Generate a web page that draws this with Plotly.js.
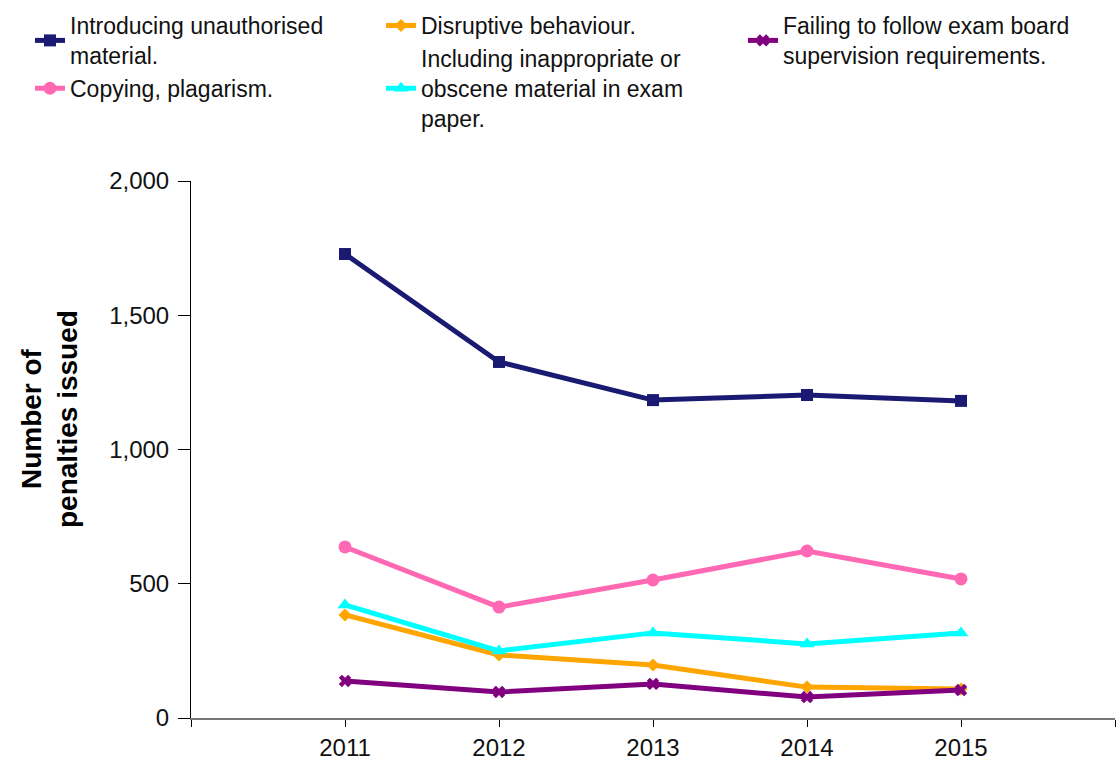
<!DOCTYPE html>
<html>
<head>
<meta charset="utf-8">
<script src="https://cdn.plot.ly/plotly-3.0.1.min.js"></script>
<style>html,body{margin:0;padding:0;background:#fff;}#chart{width:1117px;height:761px;}</style>
</head>
<body>
<div id="chart"></div>
<script>
// Data
const years = [2011, 2012, 2013, 2014, 2015];
const xTickVals = [2010, 2011, 2012, 2013, 2014, 2015, 2016];
const xTickText = ['', '2011', '2012', '2013', '2014', '2015', ''];
const yTickVals = [0, 500, 1000, 1500, 2000];
const yTitle = 'Number of<br>penalties issued';

const seriesNames = [
  'Introducing unauthorised<br>material.',
  'Copying, plagarism.',
  'Disruptive behaviour.',
  'Including inappropriate or<br>obscene material in exam<br>paper.',
  'Failing to follow exam board<br>supervision requirements.'
];
const unauthorised = [1728, 1326, 1184, 1203, 1181];
const copying = [637, 413, 514, 622, 518];
const disruptive = [384, 235, 197, 115, 108];
const inappropriate = [421, 250, 317, 276, 317];
const supervision = [138, 97, 127, 78, 104];

const seriesValues = [unauthorised, copying, disruptive, inappropriate, supervision];
const colors = ['#1a1a72', '#ff69b4', '#ffa500', '#00ffff', '#800080'];
const symbols = ['square', 'circle', 'diamond', 'triangle-up', 'x'];
const sizes = [12, 13, 10, 13, 11];
const legendIds = ['legend', 'legend', 'legend2', 'legend2', 'legend3'];

const traces = seriesValues.map((vals, i) => ({
  type: 'scatter',
  mode: 'lines+markers',
  x: years,
  y: vals,
  name: seriesNames[i],
  legend: legendIds[i],
  line: {color: colors[i], width: 5},
  marker: {color: colors[i], symbol: symbols[i], size: sizes[i]},
  hoverinfo: 'x+y+name'
}));

const W = 1117, H = 761, ML = 191, MR = 2, MT = 181, MB = 43;
const PW = W - ML - MR, PH = H - MT - MB;
const px = (p) => (p - ML) / PW;
const py = (p) => (H - MB - p) / PH;

const FAMILY = 'Liberation Sans, Arial, sans-serif';
const legendFont = {family: FAMILY, size: 23, color: '#111'};
const legendBase = {
  orientation: 'v', xanchor: 'left', yanchor: 'top',
  font: legendFont, bgcolor: 'rgba(0,0,0,0)', borderwidth: 0,
  itemclick: false, itemdoubleclick: false, valign: 'middle'
};

const layout = {
  width: W, height: H,
  margin: {l: ML, r: MR, t: MT, b: MB, pad: 0},
  paper_bgcolor: '#fff', plot_bgcolor: '#fff',
  font: {family: FAMILY, color: '#111'},
  showlegend: true,
  legend: Object.assign({}, legendBase, {x: px(30), y: py(4)}),
  legend2: Object.assign({}, legendBase, {x: px(381), y: py(4)}),
  legend3: Object.assign({}, legendBase, {x: px(743), y: py(4)}),
  xaxis: {
    range: [2010, 2016],
    tickmode: 'array', tickvals: xTickVals, ticktext: xTickText,
    showgrid: false, zeroline: false,
    showline: true, linecolor: '#777', linewidth: 2,
    ticks: 'outside', ticklen: 7, tickcolor: '#000', tickwidth: 1,
    tickfont: {family: FAMILY, size: 24, color: '#111'},
    fixedrange: true
  },
  yaxis: {
    range: [0, 2000],
    tickmode: 'array', tickvals: yTickVals, tickformat: ',d',
    showgrid: false, zeroline: false,
    showline: true, linecolor: '#000', linewidth: 1,
    ticks: 'outside', ticklen: 12, tickcolor: '#000', tickwidth: 1,
    ticklabelstandoff: 4,
    tickfont: {family: FAMILY, size: 24, color: '#111'},
    fixedrange: true
  },
  annotations: [{
    text: yTitle,
    xref: 'paper', yref: 'paper',
    x: px(49), y: py(419),
    xanchor: 'center', yanchor: 'middle',
    textangle: -90, showarrow: false,
    font: {family: FAMILY, size: 28, color: '#000', weight: 'bold'}
  }]
};

Plotly.newPlot('chart', traces, layout, {displayModeBar: false, staticPlot: true});
</script>
</body>
</html>
